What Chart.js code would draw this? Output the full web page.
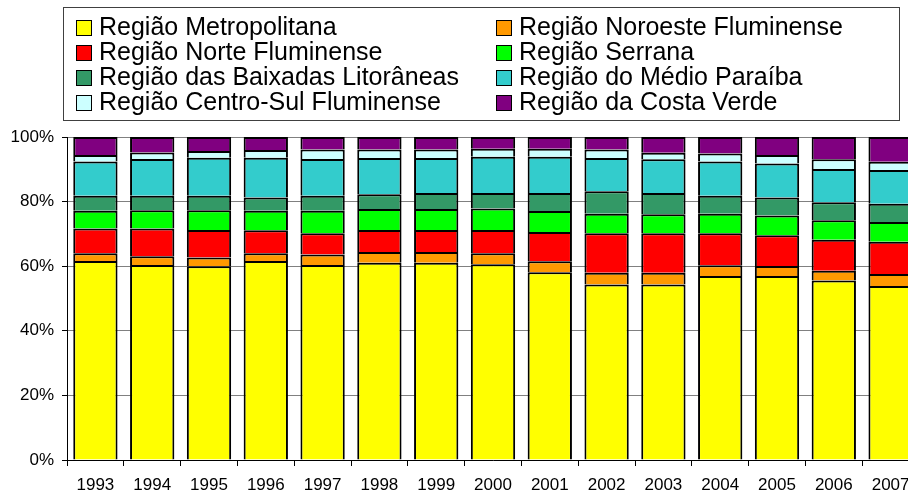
<!DOCTYPE html>
<html>
<head>
<meta charset="utf-8">
<script src="https://cdn.jsdelivr.net/npm/chart.js@4.4.1/dist/chart.umd.min.js"></script>
<style>
    html, body { margin: 0; padding: 0; background: #fff; overflow: hidden; }
    #wrap { width: 919px; height: 494px; }
</style>
</head>
<body>
<div id="wrap"><canvas id="myChart" width="919" height="494"></canvas></div>
<script>
// Categories (years)
const years = ['1993', '1994', '1995', '1996', '1997', '1998', '1999', '2000',
               '2001', '2002', '2003', '2004', '2005', '2006', '2007'];

// Share of each region (%)
const metropolitana = [61.6, 60.4, 60.0, 61.6, 60.4, 61.1, 61.1, 60.6, 58.1, 54.3, 54.3, 57.0, 57.0, 55.6, 53.9];
const noroeste      = [2.4, 2.7, 2.7, 2.4, 3.2, 3.3, 3.3, 3.4, 3.4, 3.7, 3.7, 3.3, 3.1, 3.0, 3.7];
const norte         = [7.7, 8.6, 8.5, 7.1, 6.6, 6.8, 6.8, 7.2, 9.1, 12.2, 12.2, 9.9, 9.5, 9.6, 10.0];
const serrana       = [5.5, 5.6, 6.1, 6.1, 7.0, 6.5, 6.5, 6.7, 6.5, 6.0, 5.9, 6.0, 6.1, 6.0, 6.1];
const baixadas      = [4.6, 4.5, 4.5, 4.1, 4.6, 4.6, 5.0, 4.8, 5.6, 7.0, 6.6, 5.6, 5.6, 5.6, 5.6];
const medioParaiba  = [10.6, 11.4, 11.8, 12.3, 11.4, 11.2, 10.8, 11.2, 11.2, 10.3, 10.4, 10.6, 10.5, 10.3, 10.5];
const centroSul     = [2.0, 2.0, 2.1, 2.4, 2.9, 2.6, 2.6, 2.5, 2.5, 2.6, 2.0, 2.5, 2.6, 3.0, 2.5];
const costaVerde    = [5.6, 4.8, 4.3, 4.0, 3.9, 3.9, 3.9, 3.6, 3.6, 3.9, 4.9, 5.1, 5.6, 6.9, 7.7];

// Y axis tick values
const yTicks = [0, 20, 40, 60, 80, 100];

const series = [
    { label: 'Região Metropolitana', data: metropolitana, color: '#FFFF00' },
    { label: 'Região Noroeste Fluminense', data: noroeste, color: '#FF9900' },
    { label: 'Região Norte Fluminense', data: norte, color: '#FF0000' },
    { label: 'Região Serrana', data: serrana, color: '#00FF00' },
    { label: 'Região das Baixadas Litorâneas', data: baixadas, color: '#339966' },
    { label: 'Região do Médio Paraíba', data: medioParaiba, color: '#33CCCC' },
    { label: 'Região Centro-Sul Fluminense', data: centroSul, color: '#CCFFFF' },
    { label: 'Região da Costa Verde', data: costaVerde, color: '#800080' }
];

const FONT = '"Liberation Sans", Arial, sans-serif';

// Two-column boxed legend like the original spreadsheet chart
const boxLegend = {
    id: 'boxLegend',
    afterDraw(chart) {
        const ctx = chart.ctx;
        ctx.save();
        ctx.strokeStyle = '#404040';
        ctx.lineWidth = 1;
        ctx.strokeRect(63.5, 7.5, 836, 113);
        ctx.font = '25px ' + FONT;
        ctx.textBaseline = 'alphabetic';
        chart.data.datasets.forEach((ds, i) => {
            const x = (i % 2) ? 496 : 76;
            const y = 20 + Math.floor(i / 2) * 25;
            ctx.fillStyle = ds.backgroundColor;
            ctx.fillRect(x, y, 16, 16);
            ctx.strokeStyle = '#000';
            ctx.strokeRect(x + 0.5, y + 0.5, 15, 15);
            ctx.fillStyle = '#000';
            ctx.fillText(ds.label, x + 23, y + 15);
        });
        ctx.restore();
    }
};

const ctx = document.getElementById('myChart').getContext('2d');
new Chart(ctx, {
    type: 'bar',
    data: {
        labels: years,
        datasets: series.map(s => ({
            label: s.label,
            data: s.data,
            backgroundColor: s.color,
            borderColor: '#000',
            borderWidth: 2,
            categoryPercentage: 1,
            barPercentage: 0.78
        }))
    },
    options: {
        responsive: false,
        animation: false,
        layout: { padding: { top: 137, left: 0, right: 0, bottom: 0 } },
        plugins: {
            legend: { display: false },
            tooltip: { enabled: false }
        },
        scales: {
            x: {
                stacked: true,
                afterFit: (scale) => { scale.height = 34; },
                grid: { drawOnChartArea: false, tickLength: 6, tickColor: '#000' },
                border: { color: '#000', width: 1 },
                ticks: { color: '#000', font: { family: FONT, size: 17 }, padding: 9, maxRotation: 0, autoSkip: false }
            },
            y: {
                stacked: true,
                min: 0,
                max: 100,
                afterFit: (scale) => { scale.width = 67; },
                afterBuildTicks: (scale) => { scale.ticks = yTicks.map(v => ({ value: v })); },
                grid: { color: '#808080', tickColor: '#000', tickLength: 5 },
                border: { color: '#000', width: 1 },
                ticks: {
                    color: '#000',
                    font: { family: FONT, size: 17 },
                    padding: 8,
                    callback: (v) => v + '%'
                }
            }
        }
    },
    plugins: [boxLegend]
});
</script>
</body>
</html>
